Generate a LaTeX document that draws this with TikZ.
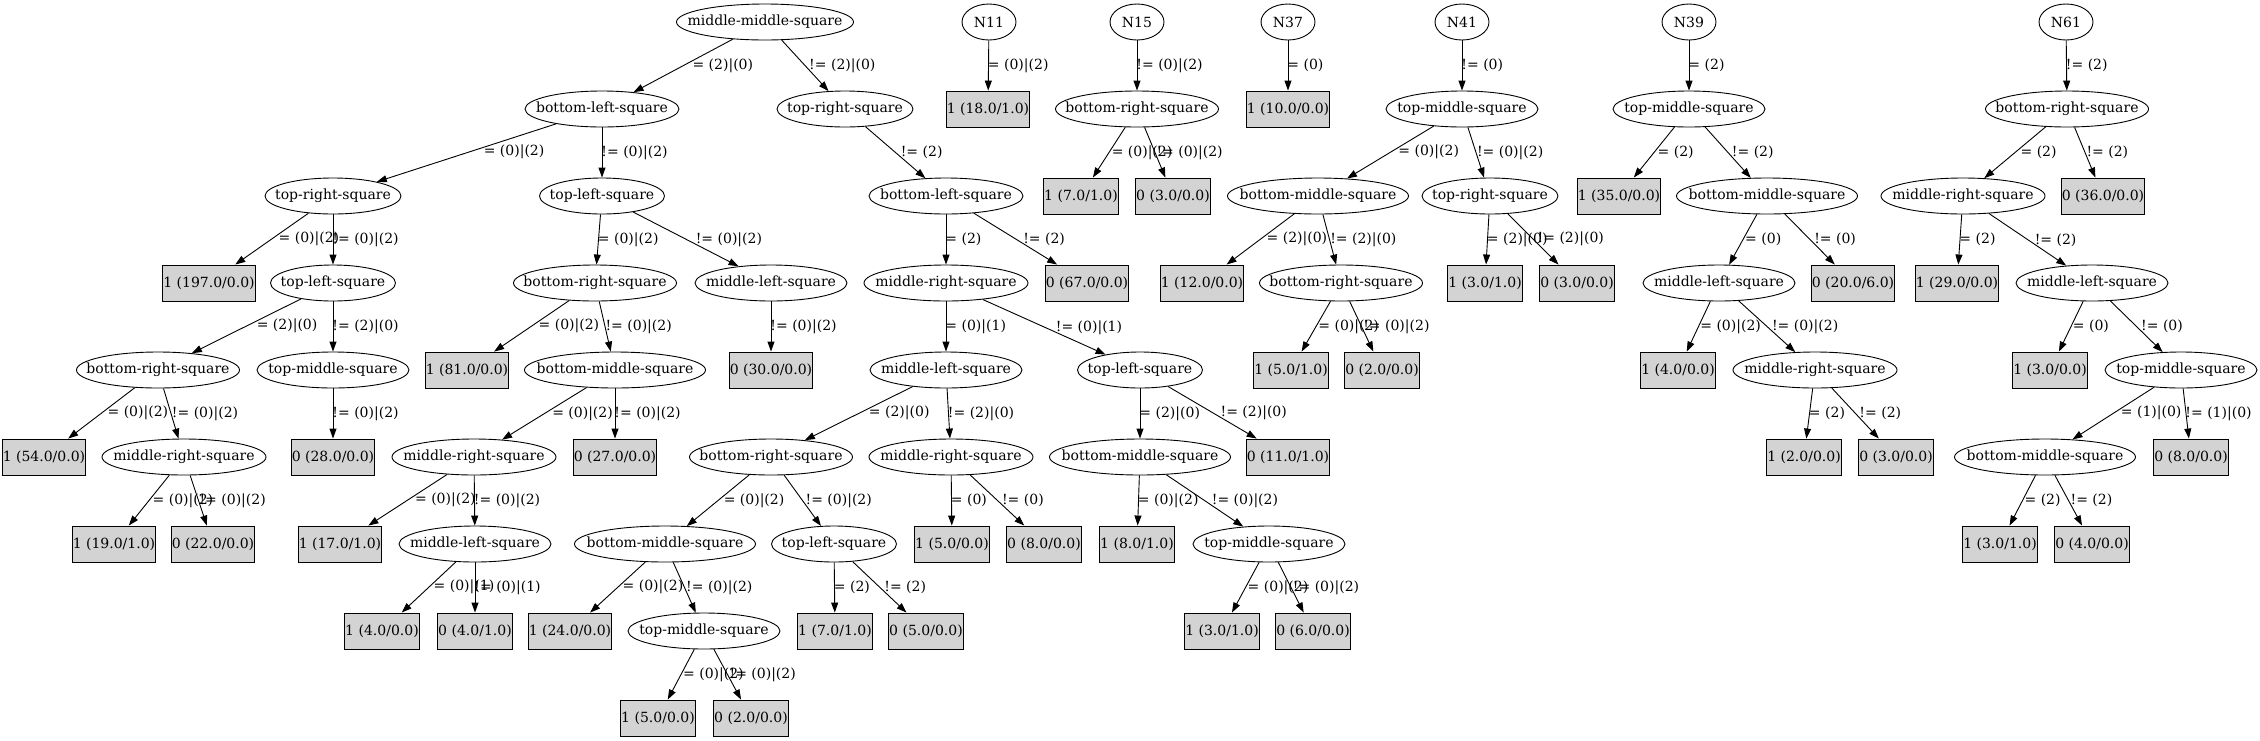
\documentclass[tikz,border=0pt]{standalone}
\usepackage{fontspec}
\setmainfont{DejaVu Serif}
\usetikzlibrary{arrows.meta, shapes.geometric}
\usepackage{xcolor}
\definecolor{leafgray}{HTML}{D3D3D3}

\begin{document}
\begin{tikzpicture}[
  x=1pt, y=-1pt,
  font=\fontsize{14pt}{17pt}\selectfont,
  dec/.style={draw, ellipse, line width=0.9pt, inner sep=0pt, minimum height=36pt, minimum width=#1,
    execute at begin node={\hbox to 0pt\bgroup\hss}, execute at end node={\hss\egroup}},
  leaf/.style={draw, line width=0.9pt, fill=leafgray, minimum height=36pt, inner xsep=0.5pt, inner ysep=0pt},
  branch/.style={-{Triangle[length=10pt, width=7pt]}, line width=0.9pt},
  lbl/.style={anchor=west, inner sep=0pt, xshift=-1pt},
  lbll/.style={lbl, pos=0.4, yshift=-5pt},
  lblr/.style={lbl, pos=0.6, yshift=5pt}
]
\useasboundingbox (0,0) rectangle (2260,740);

% Tree of middle-middle-square
\node[dec=177pt] (t) at (765,22) {middle-middle-square};
\node[dec=154pt] (t0) at (602,109) {bottom-left-square};
\node[dec=136pt] (t1) at (845,109) {top-right-square};
\node[dec=136pt] (t00) at (333,196) {top-right-square};
\node[dec=125pt] (t01) at (602,196) {top-left-square};
\node[dec=154pt] (t11) at (946,196) {bottom-left-square};
\node[leaf] (t000) at (209,283) {1 (197.0/0.0)};
\node[dec=125pt] (t001) at (333,283) {top-left-square};
\node[dec=163pt] (t010) at (595,283) {bottom-right-square};
\node[dec=152pt] (t011) at (771,283) {middle-left-square};
\node[dec=164pt] (t110) at (946,283) {middle-right-square};
\node[leaf] (t111) at (1087,283) {0 (67.0/0.0)};
\node[dec=163pt] (t0010) at (158,370) {bottom-right-square};
\node[dec=152pt] (t0011) at (333,370) {top-middle-square};
\node[leaf] (t0100) at (467,370) {1 (81.0/0.0)};
\node[dec=181pt] (t0101) at (615,370) {bottom-middle-square};
\node[leaf] (t0111) at (771,370) {0 (30.0/0.0)};
\node[dec=152pt] (t1100) at (946,370) {middle-left-square};
\node[dec=125pt] (t1101) at (1140,370) {top-left-square};
\node[leaf] (t00100) at (44,457) {1 (54.0/0.0)};
\node[dec=164pt] (t00101) at (184,457) {middle-right-square};
\node[leaf] (t00111) at (333,457) {0 (28.0/0.0)};
\node[dec=164pt] (t01010) at (474,457) {middle-right-square};
\node[leaf] (t01011) at (615,457) {0 (27.0/0.0)};
\node[dec=163pt] (t11000) at (771,457) {bottom-right-square};
\node[dec=164pt] (t11001) at (951,457) {middle-right-square};
\node[dec=181pt] (t11010) at (1140,457) {bottom-middle-square};
\node[leaf] (t11011) at (1288,457) {0 (11.0/1.0)};
\node[leaf] (t001010) at (114,544) {1 (19.0/1.0)};
\node[leaf] (t001011) at (213,544) {0 (22.0/0.0)};
\node[leaf] (t010100) at (340,544) {1 (17.0/1.0)};
\node[dec=152pt] (t010101) at (475,544) {middle-left-square};
\node[dec=181pt] (t110000) at (665,544) {bottom-middle-square};
\node[dec=125pt] (t110001) at (834,544) {top-left-square};
\node[leaf] (t110010) at (952,544) {1 (5.0/0.0)};
\node[leaf] (t110011) at (1044,544) {0 (8.0/0.0)};
\node[leaf] (t110100) at (1137,544) {1 (8.0/1.0)};
\node[dec=152pt] (t110101) at (1269,544) {top-middle-square};
\node[leaf] (t0101010) at (382,631) {1 (4.0/0.0)};
\node[leaf] (t0101011) at (475,631) {0 (4.0/1.0)};
\node[leaf] (t1100000) at (570,631) {1 (24.0/0.0)};
\node[dec=152pt] (t1100001) at (704,631) {top-middle-square};
\node[leaf] (t1100010) at (835,631) {1 (7.0/1.0)};
\node[leaf] (t1100011) at (926,631) {0 (5.0/0.0)};
\node[leaf] (t1101010) at (1222,631) {1 (3.0/1.0)};
\node[leaf] (t1101011) at (1313,631) {0 (6.0/0.0)};
\node[leaf] (t11000010) at (658,718) {1 (5.0/0.0)};
\node[leaf] (t11000011) at (751,718) {0 (2.0/0.0)};

\draw[branch] (t) -- node[lbll]{= (2)|(0)} (t0);
\draw[branch] (t) -- node[lblr]{!= (2)|(0)} (t1);
\draw[branch] (t0) -- node[lbll]{= (0)|(2)} (t00);
\draw[branch] (t0) -- node[lbl]{!= (0)|(2)} (t01);
\draw[branch] (t00) -- node[lbll]{= (0)|(2)} (t000);
\draw[branch] (t00) -- node[lbl]{!= (0)|(2)} (t001);
\draw[branch] (t001) -- node[lbll]{= (2)|(0)} (t0010);
\draw[branch] (t001) -- node[lbl]{!= (2)|(0)} (t0011);
\draw[branch] (t0010) -- node[lbll]{= (0)|(2)} (t00100);
\draw[branch] (t0010) -- node[lblr]{!= (0)|(2)} (t00101);
\draw[branch] (t00101) -- node[lbll]{= (0)|(2)} (t001010);
\draw[branch] (t00101) -- node[lblr]{!= (0)|(2)} (t001011);
\draw[branch] (t0011) -- node[lbl]{!= (0)|(2)} (t00111);
\draw[branch] (t01) -- node[lbl]{= (0)|(2)} (t010);
\draw[branch] (t01) -- node[lblr]{!= (0)|(2)} (t011);
\draw[branch] (t010) -- node[lbll]{= (0)|(2)} (t0100);
\draw[branch] (t010) -- node[lblr]{!= (0)|(2)} (t0101);
\draw[branch] (t0101) -- node[lbll]{= (0)|(2)} (t01010);
\draw[branch] (t0101) -- node[lbl]{!= (0)|(2)} (t01011);
\draw[branch] (t01010) -- node[lbll]{= (0)|(2)} (t010100);
\draw[branch] (t01010) -- node[lbl]{!= (0)|(2)} (t010101);
\draw[branch] (t010101) -- node[lbll]{= (0)|(1)} (t0101010);
\draw[branch] (t010101) -- node[lbl]{!= (0)|(1)} (t0101011);
\draw[branch] (t011) -- node[lbl]{!= (0)|(2)} (t0111);
\draw[branch] (t1) -- node[lblr]{!= (2)} (t11);
\draw[branch] (t11) -- node[lbl]{= (2)} (t110);
\draw[branch] (t11) -- node[lblr]{!= (2)} (t111);
\draw[branch] (t110) -- node[lbl]{= (0)|(1)} (t1100);
\draw[branch] (t110) -- node[lblr]{!= (0)|(1)} (t1101);
\draw[branch] (t1100) -- node[lbll]{= (2)|(0)} (t11000);
\draw[branch] (t1100) -- node[lbl]{!= (2)|(0)} (t11001);
\draw[branch] (t11000) -- node[lbll]{= (0)|(2)} (t110000);
\draw[branch] (t11000) -- node[lblr]{!= (0)|(2)} (t110001);
\draw[branch] (t110000) -- node[lbll]{= (0)|(2)} (t1100000);
\draw[branch] (t110000) -- node[lblr]{!= (0)|(2)} (t1100001);
\draw[branch] (t1100001) -- node[lbll]{= (0)|(2)} (t11000010);
\draw[branch] (t1100001) -- node[lblr]{!= (0)|(2)} (t11000011);
\draw[branch] (t110001) -- node[lbl]{= (2)} (t1100010);
\draw[branch] (t110001) -- node[lblr]{!= (2)} (t1100011);
\draw[branch] (t11001) -- node[lbl]{= (0)} (t110010);
\draw[branch] (t11001) -- node[lblr]{!= (0)} (t110011);
\draw[branch] (t1101) -- node[lbl]{= (2)|(0)} (t11010);
\draw[branch] (t1101) -- node[lblr]{!= (2)|(0)} (t11011);
\draw[branch] (t11010) -- node[lbl]{= (0)|(2)} (t110100);
\draw[branch] (t11010) -- node[lblr]{!= (0)|(2)} (t110101);
\draw[branch] (t110101) -- node[lbll]{= (0)|(2)} (t1101010);
\draw[branch] (t110101) -- node[lblr]{!= (0)|(2)} (t1101011);

% N11, N15, N37
\node[dec=54pt] (n11) at (989,22) {N11};
\node[leaf] (n11a) at (988,109) {1 (18.0/1.0)};
\draw[branch] (n11) -- node[lbl]{= (0)|(2)} (n11a);

\node[dec=54pt] (n15) at (1137,22) {N15};
\node[dec=163pt] (n15a) at (1137,109) {bottom-right-square};
\node[leaf] (n15a0) at (1081,196) {1 (7.0/1.0)};
\node[leaf] (n15a1) at (1173,196) {0 (3.0/0.0)};
\draw[branch] (n15) -- node[lbl]{!= (0)|(2)} (n15a);
\draw[branch] (n15a) -- node[lbll]{= (0)|(2)} (n15a0);
\draw[branch] (n15a) -- node[lblr]{!= (0)|(2)} (n15a1);

\node[dec=54pt] (n37) at (1288,22) {N37};
\node[leaf] (n37a) at (1288,109) {1 (10.0/0.0)};
\draw[branch] (n37) -- node[lbl]{= (0)} (n37a);

% N41
\node[dec=54pt] (n41) at (1462,22) {N41};
\node[dec=152pt] (n41a) at (1462,109) {top-middle-square};
\node[dec=181pt] (n41a0) at (1318,196) {bottom-middle-square};
\node[dec=136pt] (n41a1) at (1490,196) {top-right-square};
\node[leaf] (n41a00) at (1202,283) {1 (12.0/0.0)};
\node[dec=163pt] (n41a01) at (1341,283) {bottom-right-square};
\node[leaf] (n41a10) at (1485,283) {1 (3.0/1.0)};
\node[leaf] (n41a11) at (1577,283) {0 (3.0/0.0)};
\node[leaf] (n41a010) at (1291,370) {1 (5.0/1.0)};
\node[leaf] (n41a011) at (1382,370) {0 (2.0/0.0)};
\draw[branch] (n41) -- node[lbl]{!= (0)} (n41a);
\draw[branch] (n41a) -- node[lbll]{= (0)|(2)} (n41a0);
\draw[branch] (n41a) -- node[lblr]{!= (0)|(2)} (n41a1);
\draw[branch] (n41a0) -- node[lbll]{= (2)|(0)} (n41a00);
\draw[branch] (n41a0) -- node[lblr]{!= (2)|(0)} (n41a01);
\draw[branch] (n41a01) -- node[lbll]{= (0)|(2)} (n41a010);
\draw[branch] (n41a01) -- node[lblr]{!= (0)|(2)} (n41a011);
\draw[branch] (n41a1) -- node[lbl]{= (2)|(0)} (n41a10);
\draw[branch] (n41a1) -- node[lblr]{!= (2)|(0)} (n41a11);

% N39
\node[dec=54pt] (n39) at (1689,22) {N39};
\node[dec=152pt] (n39a) at (1689,109) {top-middle-square};
\node[leaf] (n39a0) at (1619,196) {1 (35.0/0.0)};
\node[dec=181pt] (n39a1) at (1767,196) {bottom-middle-square};
\node[dec=152pt] (n39a10) at (1719,283) {middle-left-square};
\node[leaf] (n39a11) at (1853,283) {0 (20.0/6.0)};
\node[leaf] (n39a100) at (1678,370) {1 (4.0/0.0)};
\node[dec=164pt] (n39a101) at (1815,370) {middle-right-square};
\node[leaf] (n39a1010) at (1804,457) {1 (2.0/0.0)};
\node[leaf] (n39a1011) at (1896,457) {0 (3.0/0.0)};
\draw[branch] (n39) -- node[lbl]{= (2)} (n39a);
\draw[branch] (n39a) -- node[lbll]{= (2)} (n39a0);
\draw[branch] (n39a) -- node[lblr]{!= (2)} (n39a1);
\draw[branch] (n39a1) -- node[lbll]{= (0)} (n39a10);
\draw[branch] (n39a1) -- node[lblr]{!= (0)} (n39a11);
\draw[branch] (n39a10) -- node[lbll]{= (0)|(2)} (n39a100);
\draw[branch] (n39a10) -- node[lblr]{!= (0)|(2)} (n39a101);
\draw[branch] (n39a101) -- node[lbl]{= (2)} (n39a1010);
\draw[branch] (n39a101) -- node[lblr]{!= (2)} (n39a1011);

% N61
\node[dec=54pt] (n61) at (2066,22) {N61};
\node[dec=163pt] (n61a) at (2067,109) {bottom-right-square};
\node[dec=164pt] (n61a0) at (1963,196) {middle-right-square};
\node[leaf] (n61a1) at (2103,196) {0 (36.0/0.0)};
\node[leaf] (n61a00) at (1957,283) {1 (29.0/0.0)};
\node[dec=152pt] (n61a01) at (2092,283) {middle-left-square};
\node[leaf] (n61a010) at (2050,370) {1 (3.0/0.0)};
\node[dec=152pt] (n61a011) at (2181,370) {top-middle-square};
\node[dec=181pt] (n61a0110) at (2045,457) {bottom-middle-square};
\node[leaf] (n61a0111) at (2191,457) {0 (8.0/0.0)};
\node[leaf] (n61a01100) at (2000,544) {1 (3.0/1.0)};
\node[leaf] (n61a01101) at (2092,544) {0 (4.0/0.0)};
\draw[branch] (n61) -- node[lbl]{!= (2)} (n61a);
\draw[branch] (n61a) -- node[lbll]{= (2)} (n61a0);
\draw[branch] (n61a) -- node[lblr]{!= (2)} (n61a1);
\draw[branch] (n61a0) -- node[lbl]{= (2)} (n61a00);
\draw[branch] (n61a0) -- node[lblr]{!= (2)} (n61a01);
\draw[branch] (n61a01) -- node[lbll]{= (0)} (n61a010);
\draw[branch] (n61a01) -- node[lblr]{!= (0)} (n61a011);
\draw[branch] (n61a011) -- node[lbll]{= (1)|(0)} (n61a0110);
\draw[branch] (n61a011) -- node[lbl]{!= (1)|(0)} (n61a0111);
\draw[branch] (n61a0110) -- node[lbll]{= (2)} (n61a01100);
\draw[branch] (n61a0110) -- node[lblr]{!= (2)} (n61a01101);
\end{tikzpicture}
\end{document}
